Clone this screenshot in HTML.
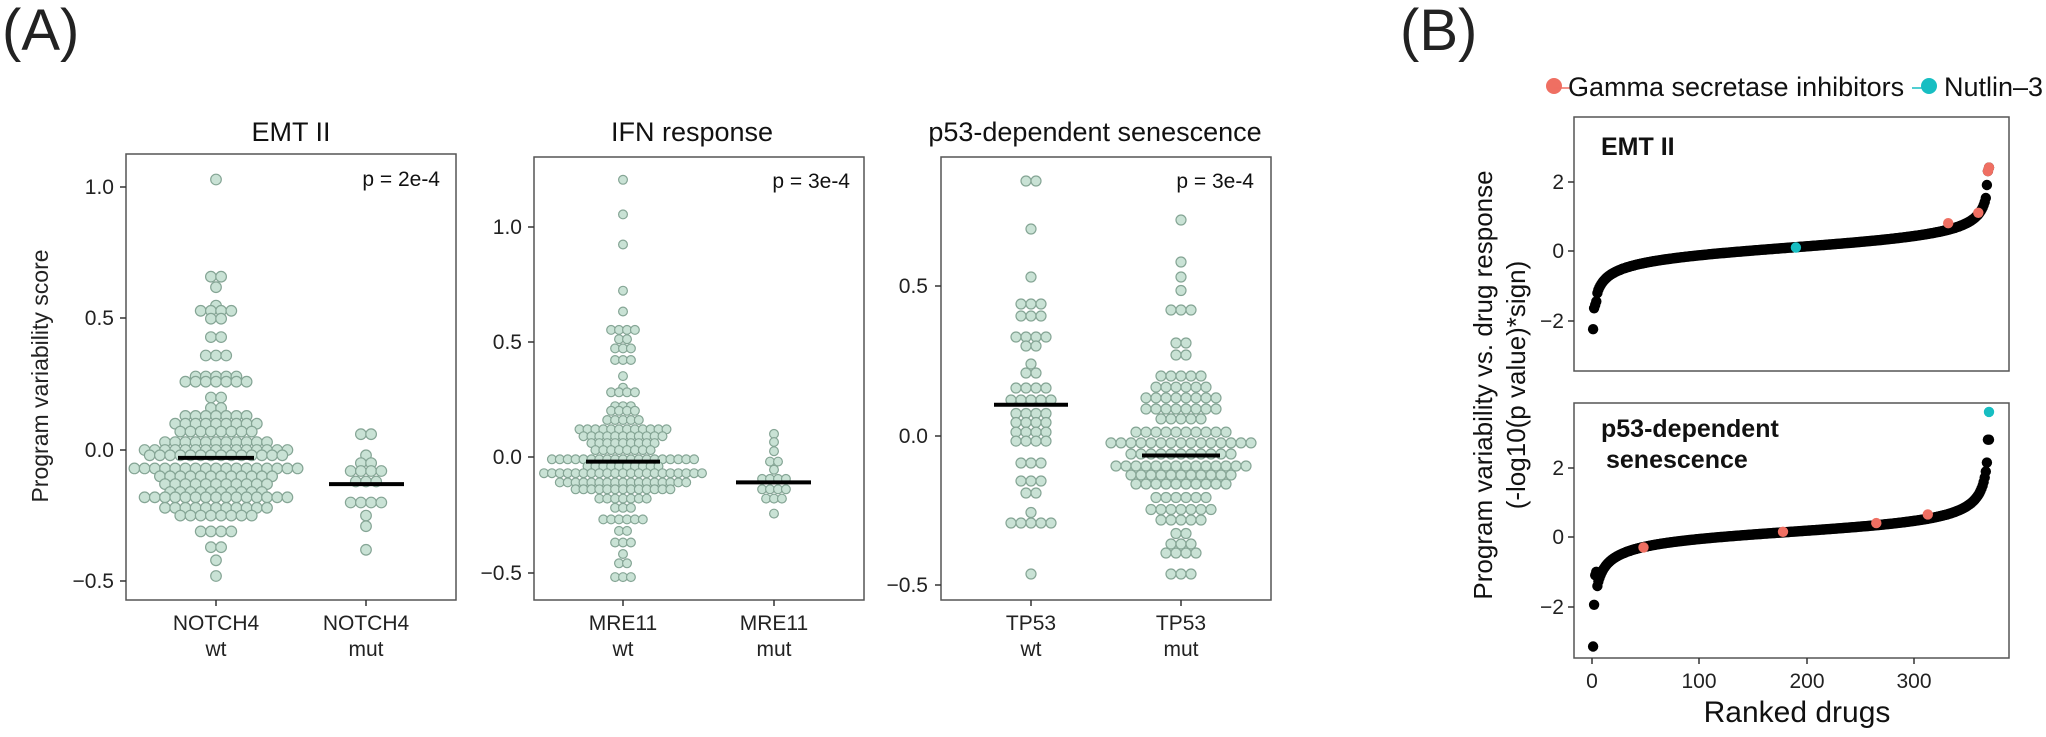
<!DOCTYPE html>
<html><head><meta charset="utf-8"><style>
html,body{margin:0;padding:0;background:#fff;}
svg{display:block;font-family:"Liberation Sans",Arial,sans-serif;}
</style></head><body>
<svg id="s" width="2046" height="737" viewBox="0 0 2046 737" xmlns="http://www.w3.org/2000/svg">
<text x="2" y="50" font-size="58" fill="#222">(A)</text>
<text x="1400" y="50" font-size="58" fill="#222">(B)</text>
<!-- Panel 1 -->
<text x="291" y="141" font-size="27" text-anchor="middle" fill="#111">EMT II</text>
<rect x="126" y="154" width="330" height="446" fill="none" stroke="#555" stroke-width="1.5"/>
<text x="440" y="186" font-size="21" text-anchor="end" fill="#111">p = 2e-4</text>
<g font-size="21" text-anchor="end" fill="#222">
<text x="114" y="194">1.0</text><text x="114" y="325">0.5</text><text x="114" y="457">0.0</text><text x="114" y="588">−0.5</text></g>
<g stroke="#333" stroke-width="1.5"><line x1="120" x2="126" y1="187" y2="187"/><line x1="120" x2="126" y1="318" y2="318"/><line x1="120" x2="126" y1="450" y2="450"/><line x1="120" x2="126" y1="581" y2="581"/>
<line x1="216" x2="216" y1="600" y2="606"/><line x1="366" x2="366" y1="600" y2="606"/></g>
<g font-size="21" text-anchor="middle" fill="#222"><text x="216" y="630">NOTCH4</text><text x="216" y="656">wt</text><text x="366" y="630">NOTCH4</text><text x="366" y="656">mut</text></g>
<text transform="translate(48,376) rotate(-90)" font-size="23" text-anchor="middle" fill="#222">Program variability score</text>
<!-- Panel 2 -->
<text x="692" y="141" font-size="27" text-anchor="middle" fill="#111">IFN response</text>
<rect x="534" y="157" width="330" height="443" fill="none" stroke="#555" stroke-width="1.5"/>
<text x="850" y="188" font-size="21" text-anchor="end" fill="#111">p = 3e-4</text>
<g font-size="21" text-anchor="end" fill="#222">
<text x="522" y="234">1.0</text><text x="522" y="349">0.5</text><text x="522" y="464">0.0</text><text x="522" y="580">−0.5</text></g>
<g stroke="#333" stroke-width="1.5"><line x1="528" x2="534" y1="227" y2="227"/><line x1="528" x2="534" y1="342" y2="342"/><line x1="528" x2="534" y1="457" y2="457"/><line x1="528" x2="534" y1="573" y2="573"/>
<line x1="623" x2="623" y1="600" y2="606"/><line x1="774" x2="774" y1="600" y2="606"/></g>
<g font-size="21" text-anchor="middle" fill="#222"><text x="623" y="630">MRE11</text><text x="623" y="656">wt</text><text x="774" y="630">MRE11</text><text x="774" y="656">mut</text></g>
<!-- Panel 3 -->
<text x="1095" y="141" font-size="27" text-anchor="middle" fill="#111">p53-dependent senescence</text>
<rect x="941" y="157" width="330" height="443" fill="none" stroke="#555" stroke-width="1.5"/>
<text x="1254" y="188" font-size="21" text-anchor="end" fill="#111">p = 3e-4</text>
<g font-size="21" text-anchor="end" fill="#222">
<text x="928" y="293">0.5</text><text x="928" y="443">0.0</text><text x="928" y="592">−0.5</text></g>
<g stroke="#333" stroke-width="1.5"><line x1="935" x2="941" y1="286" y2="286"/><line x1="935" x2="941" y1="436" y2="436"/><line x1="935" x2="941" y1="585" y2="585"/>
<line x1="1031" x2="1031" y1="600" y2="606"/><line x1="1181" x2="1181" y1="600" y2="606"/></g>
<g font-size="21" text-anchor="middle" fill="#222"><text x="1031" y="630">TP53</text><text x="1031" y="656">wt</text><text x="1181" y="630">TP53</text><text x="1181" y="656">mut</text></g>
<!-- Panel B -->
<circle cx="1554" cy="86" r="8" fill="#ef6f62"/><line x1="1554" x2="1572" y1="88" y2="88" stroke="#ef6f62" stroke-width="1.5"/>
<text x="1568" y="96" font-size="27" fill="#111">Gamma secretase inhibitors</text>
<line x1="1912" x2="1928" y1="88" y2="88" stroke="#17bec2" stroke-width="1.5"/><circle cx="1929" cy="86" r="8" fill="#17bec2"/>
<text x="1944" y="96" font-size="27" fill="#111">Nutlin–3</text>
<rect x="1574" y="117" width="435" height="254" fill="none" stroke="#555" stroke-width="1.5"/>
<rect x="1574" y="403" width="435" height="255" fill="none" stroke="#555" stroke-width="1.5"/>
<text x="1601" y="155" font-size="25" font-weight="bold" fill="#111">EMT II</text>
<text x="1601" y="437" font-size="25" font-weight="bold" fill="#111">p53-dependent</text>
<text x="1606" y="468" font-size="25" font-weight="bold" fill="#111">senescence</text>
<g font-size="21" text-anchor="end" fill="#222">
<text x="1564" y="189">2</text><text x="1564" y="258">0</text><text x="1564" y="328">−2</text>
<text x="1564" y="475">2</text><text x="1564" y="544">0</text><text x="1564" y="614">−2</text></g>
<g stroke="#333" stroke-width="1.5">
<line x1="1568" x2="1574" y1="182" y2="182"/><line x1="1568" x2="1574" y1="251" y2="251"/><line x1="1568" x2="1574" y1="321" y2="321"/>
<line x1="1568" x2="1574" y1="468" y2="468"/><line x1="1568" x2="1574" y1="537" y2="537"/><line x1="1568" x2="1574" y1="607" y2="607"/>
<line x1="1592" x2="1592" y1="658" y2="664"/><line x1="1699" x2="1699" y1="658" y2="664"/><line x1="1807" x2="1807" y1="658" y2="664"/><line x1="1914" x2="1914" y1="658" y2="664"/></g>
<g font-size="21" text-anchor="middle" fill="#222"><text x="1592" y="688">0</text><text x="1699" y="688">100</text><text x="1807" y="688">200</text><text x="1914" y="688">300</text></g>
<text x="1797" y="722" font-size="30" text-anchor="middle" fill="#111">Ranked drugs</text>
<text transform="translate(1492,385) rotate(-90)" font-size="26" text-anchor="middle" fill="#111">Program variability vs. drug response</text>
<text transform="translate(1525,385) rotate(-90)" font-size="26" text-anchor="middle" fill="#111">(-log10(p value)*sign)</text>
<g id="dots"></g>
</svg>
<script>
var g=document.getElementById('dots'),NS='http://www.w3.org/2000/svg';
function c(x,y,r,f,s){var e=document.createElementNS(NS,'circle');e.setAttribute('cx',x.toFixed(1));e.setAttribute('cy',y.toFixed(1));e.setAttribute('r',r);e.setAttribute('fill',f);if(s){e.setAttribute('stroke',s);e.setAttribute('stroke-width','1.2');}g.appendChild(e);}
function ln(x1,x2,y){var e=document.createElementNS(NS,'line');e.setAttribute('x1',x1);e.setAttribute('x2',x2);e.setAttribute('y1',y);e.setAttribute('y2',y);e.setAttribute('stroke','#000');e.setAttribute('stroke-width','4');g.appendChild(e);}
function swarm(cx,y0,ppu,rows,r,sp){rows.forEach(function(rw){var y=y0-rw[0]*ppu,n=rw[1];for(var i=0;i<n;i++){c(cx+(i-(n-1)/2)*sp,y,r,'#c9e2d5','#85a595');}});}
var F='#c9e2d5';
// panel1
var p1=262.6;
swarm(216,450,p1,[[1.03,1],[.66,2],[.62,1],[.55,1],[.53,4],[.5,2],[.43,2],[.36,3],[.28,5],[.26,7],[.2,2],[.16,2],[.13,7],[.1,9],[.07,8],[.03,11],[0,15],[-.02,14],[-.07,17],[-.1,12],[-.13,11],[-.16,10],[-.18,15],[-.22,11],[-.25,8],[-.31,4],[-.37,2],[-.42,1],[-.48,1]],5.3,10.2);
swarm(366,450,p1,[[.06,2],[-.02,1],[-.05,2],[-.08,4],[-.12,3],[-.2,4],[-.25,1],[-.29,1],[-.38,1]],5.3,10.2);
ln(178,254,450+.03*p1);ln(329,404,450+.13*p1);
// panel2
var p2=231;
swarm(623,457,p2,[[1.2,1],[1.05,1],[.92,1],[.72,1],[.63,1],[.55,4],[.51,2],[.47,3],[.42,3],[.35,1],[.3,1],[.28,4],[.22,3],[.2,4],[.16,5],[.12,12],[.09,11],[.06,9],[.03,8],[-.01,19],[-.04,10],[-.07,21],[-.11,17],[-.14,13],[-.18,7],[-.22,3],[-.27,6],[-.32,2],[-.37,3],[-.42,1],[-.46,2],[-.52,3]],4.4,7.9);
swarm(774,457,p2,[[.1,1],[.065,1],[.025,1],[-.02,2],[-.055,1],[-.095,4],[-.14,4],[-.18,3],[-.245,1]],4.4,7.9);
ln(586,660,457+.02*p2);ln(736,811,457+.11*p2);
// panel3
var p3=300;
swarm(1031,436,p3,[[.85,2],[.69,1],[.53,1],[.44,3],[.4,3],[.33,4],[.3,2],[.24,1],[.21,2],[.16,4],[.12,5],[.075,4],[.045,4],[.013,4],[-.017,4],[-.09,3],[-.15,3],[-.19,2],[-.255,1],[-.29,5],[-.46,1]],5,10);
swarm(1181,436,p3,[[.72,1],[.58,1],[.53,1],[.485,1],[.42,3],[.31,2],[.27,2],[.2,5],[.163,6],[.127,8],[.09,8],[.057,5],[.013,10],[-.023,15],[-.06,11],[-.1,14],[-.13,11],[-.16,10],[-.205,6],[-.245,7],[-.28,5],[-.325,2],[-.36,3],[-.39,4],[-.46,3]],5,10);
ln(994,1068,436-.104*p3);ln(1142,1220,436+.065*p3);
// panel B
var N=370;function X(i){return 1592+i*1.073;}
function curve(y0,a,b,cc,sp){for(var i=1;i<=N;i++){var t=(i-0.5)/N,L=Math.log(t/(1-t));var v=a+b*L+cc*L*L*L;if(sp[i]!==undefined)v=sp[i];c(X(i),y0-v*34.75,5.2,'#000');}}
curve(251,.1,.22,.004,{1:-2.25,2:-1.65,3:-1.55,4:-1.45,368:1.9,369:2.3,370:2.4});
[[332,.8],[360,1.1],[369,2.3],[370,2.4]].forEach(function(p){c(X(p[0]),251-p[1]*34.75,5.2,'#ef6f62');});
c(X(190),251-.1*34.75,5.2,'#17bec2');
curve(537,.15,.2,.008,{1:-3.15,2:-1.95,3:-1.1,4:-1.0,369:2.8,370:2.8});
[[48,-.3],[178,.15],[265,.4],[313,.65]].forEach(function(p){c(X(p[0]),537-p[1]*34.75,5.2,'#ef6f62');});
c(X(370),537-3.6*34.75,5.2,'#17bec2');
</script>
</body></html>
